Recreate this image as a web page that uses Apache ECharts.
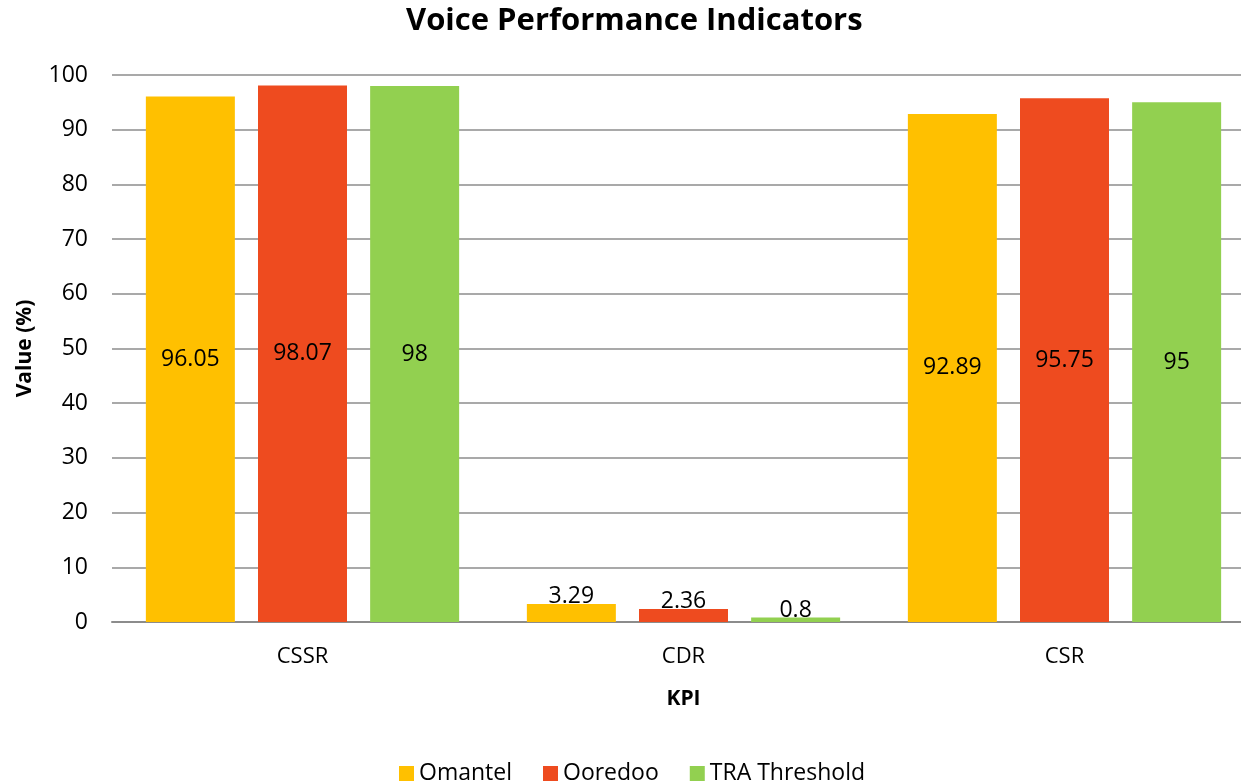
<!DOCTYPE html>
<html lang="en">
<head>
  <meta charset="UTF-8">
  <title>Voice Performance Indicators</title>
  <script src="https://cdn.jsdelivr.net/npm/echarts@6/dist/echarts.min.js"></script>
  <style>
    html, body {
      margin: 0;
      padding: 0;
      background: #fff;
    }

    #chart-main {
      width: 1241px;
      height: 781px;
    }
  </style>
</head>
<body>
<div id="chart-main"></div>

<script type="text/javascript">
  const categories = ['CSSR', 'CDR', 'CSR']
  const omantel = [96.05, 3.29, 92.89]
  const ooredoo = [98.07, 2.36, 95.75]
  const traThreshold = [98, 0.8, 95]
  const yTicks = [0, 10, 20, 30, 40, 50, 60, 70, 80, 90, 100]

  const font = '"Open Sans", "Noto Sans", sans-serif'

  // small bars get their label on top, tall ones in the middle
  function barData (values) {
    return values.map(function (v) {
      return {
        value: v,
        label: v < 10
          ? {position: 'top', distance: -4}
          : {position: 'inside'}
      }
    })
  }

  function makeSeries (name, values, color) {
    return {
      name: name,
      type: 'bar',
      data: barData(values),
      barWidth: 89,
      barGap: '26%',
      itemStyle: {color: color},
      label: {
        show: true,
        color: '#000',
        fontFamily: font,
        fontSize: 23
      }
    }
  }

  let echartItem = echarts.init(document.getElementById('chart-main'))

  let option = {
    animation: false,
    title: {
      text: 'Voice Performance Indicators',
      left: 401,
      top: 1,
      textStyle: {
        fontFamily: font,
        fontSize: 31,
        fontWeight: 'bold',
        color: '#000'
      }
    },
    legend: {
      top: 757,
      left: 394,
      itemWidth: 15,
      itemHeight: 15,
      itemGap: 31,
      icon: 'rect',
      textStyle: {
        fontFamily: font,
        fontSize: 23,
        color: '#000'
      },
      data: ['Omantel', 'Ooredoo', 'TRA Threshold']
    },
    grid: {
      left: 112,
      top: 75,
      width: 1143,
      bottom: 159,
      outerBoundsMode: 'none'
    },
    xAxis: {
      type: 'category',
      data: categories,
      name: 'KPI',
      nameLocation: 'middle',
      nameGap: 67,
      nameTextStyle: {
        fontFamily: font,
        fontSize: 21,
        fontWeight: 'bold',
        color: '#000'
      },
      axisLine: {lineStyle: {color: '#8c8c8c', width: 2}},
      axisTick: {show: false},
      axisLabel: {
        margin: 24,
        fontFamily: font,
        fontSize: 22,
        color: '#000'
      }
    },
    yAxis: {
      type: 'value',
      min: yTicks[0],
      max: yTicks[yTicks.length - 1],
      interval: 10,
      name: 'Value (%)',
      nameLocation: 'middle',
      nameGap: 76,
      nameTextStyle: {
        fontFamily: font,
        fontSize: 21,
        fontWeight: 'bold',
        color: '#000'
      },
      axisLine: {show: false},
      axisTick: {show: false},
      axisLabel: {
        margin: 24,
        fontFamily: font,
        fontSize: 23,
        color: '#000'
      },
      splitLine: {
        lineStyle: {color: '#8c8c8c', width: 1.5}
      }
    },
    series: [
      makeSeries('Omantel', omantel, '#FFC000'),
      makeSeries('Ooredoo', ooredoo, '#EE4B1F'),
      makeSeries('TRA Threshold', traThreshold, '#92D050')
    ]
  }

  echartItem.setOption(option)
</script>
</body>
</html>
